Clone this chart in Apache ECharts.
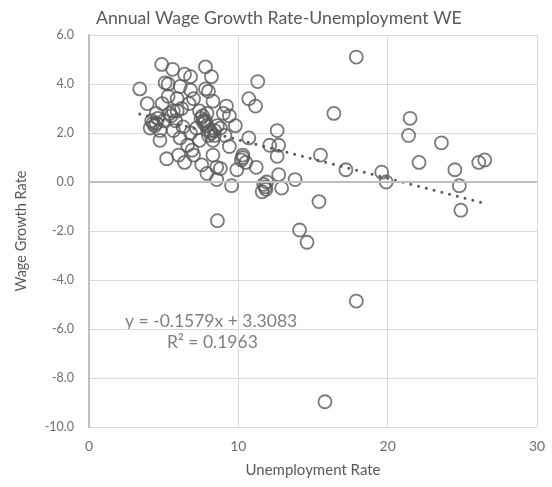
<!DOCTYPE html>
<html>
<head>
<meta charset="utf-8">
<script src="https://cdn.jsdelivr.net/npm/echarts@6/dist/echarts.min.js"></script>
<style>
  html, body { margin: 0; padding: 0; background: #fff; }
  #chart { width: 552px; height: 487px; }
</style>
</head>
<body>
<div id="chart"></div>
<script>
var unemployment = [
  4.87, 5.6, 6.4, 6.8, 7.8, 8.2, 5.1, 5.3, 3.4, 6.1,
  6.8, 7.8, 8.0, 3.9, 4.9, 5.3, 5.9, 7.0, 8.3, 9.2,
  5.65, 4.5, 7.4, 7.9, 9.0, 9.4, 4.2, 4.5, 5.0, 4.1,
  4.75, 5.65, 6.3, 6.8, 7.65, 8.1, 8.4, 8.8, 9.8, 4.75,
  6.1, 7.4, 8.3, 9.4, 10.7, 5.2, 6.0, 6.4, 7.0, 7.55,
  7.9, 8.3, 8.55, 8.8, 8.55, 9.9, 10.2, 10.3, 9.55, 11.2,
  11.3, 10.7, 11.15, 12.6, 12.1, 12.7, 12.6, 12.7, 11.9, 11.8,
  11.6, 12.9, 13.8, 15.5, 15.4, 8.6, 14.1, 14.6, 17.9, 15.8,
  17.9, 16.4, 21.5, 21.4, 23.6, 22.1, 26.1, 26.5, 24.5, 24.8,
  24.9, 19.6, 19.9, 17.2, 4.3, 4.6, 4.4, 7.5, 7.7, 7.6,
  7.8, 7.9, 8.0, 8.2, 8.4, 5.8, 6.6, 6.9, 7.2, 6.2,
  5.4, 6.7, 8.6, 9.1, 10.5, 10.3, 11.7, 11.85, 5.5, 5.9
];
var wageGrowth = [
  4.8, 4.6, 4.4, 4.3, 4.7, 4.3, 4.05, 4.0, 3.8, 3.9,
  3.75, 3.8, 3.7, 3.2, 3.2, 3.5, 3.4, 3.4, 3.3, 3.1,
  2.9, 2.8, 2.9, 2.8, 2.8, 2.7, 2.5, 2.4, 2.5, 2.2,
  2.1, 2.1, 2.25, 2.0, 2.5, 2.1, 1.9, 2.2, 2.3, 1.7,
  1.8, 1.7, 1.7, 1.45, 1.8, 0.95, 1.1, 0.8, 1.1, 0.7,
  0.35, 1.1, 0.6, 0.55, 0.1, 0.5, 0.9, 1.1, -0.15, 0.6,
  4.1, 3.4, 3.1, 2.1, 1.5, 1.5, 1.05, 0.3, 0.0, -0.2,
  -0.4, -0.25, 0.1, 1.1, -0.8, -1.58, -1.96, -2.46, -4.86, -8.97,
  5.1, 2.8, 2.6, 1.9, 1.6, 0.8, 0.8, 0.9, 0.5, -0.15,
  -1.15, 0.4, 0.0, 0.5, 2.4, 2.6, 2.3, 2.6, 2.4, 2.7,
  2.5, 2.3, 1.9, 2.0, 2.1, 2.5, 1.5, 1.3, 2.2, 3.0,
  2.8, 3.2, 2.3, 1.9, 0.8, 1.0, -0.1, -0.3, 2.7, 2.9
];
var trendSlope = -0.1579;
var trendIntercept = 3.3083;
var trendText = ["y = -0.1579x + 3.3083", "R\u00b2 = 0.1963"];

var points = unemployment.map(function (x, i) { return [x, wageGrowth[i]]; });
var xMin = Math.min.apply(null, unemployment);
var xMax = Math.max.apply(null, unemployment);
var trend = [xMin, xMax].map(function (x) { return [x, trendIntercept + trendSlope * x]; });

var font = "Lato, 'Open Sans', sans-serif";
var chart = echarts.init(document.getElementById("chart"), null, { renderer: "canvas" });
var option = {
  animation: false,
  title: {
    text: "Annual Wage Growth Rate-Unemployment WE",
    left: 91,
    top: 4,
    textStyle: { fontFamily: font, fontSize: 17.7, fontWeight: "normal", color: "#595959" }
  },
  grid: { left: 89, right: 15, top: 35, bottom: 60, containLabel: false },
  xAxis: {
    type: "value",
    min: 0, max: 30, interval: 10,
    name: "Unemployment Rate",
    nameLocation: "middle",
    nameGap: 36,
    nameTextStyle: { fontFamily: font, fontSize: 15, color: "#595959" },
    axisLine: { show: false },
    axisTick: { show: false },
    axisLabel: { fontFamily: font, fontSize: 14, color: "#6f6f6f", margin: 12 },
    splitLine: { show: true, lineStyle: { color: "#d9d9d9", width: 1 } }
  },
  yAxis: {
    type: "value",
    min: -10, max: 6, interval: 2,
    name: "Wage Growth Rate",
    nameLocation: "middle",
    nameGap: 60,
    nameTextStyle: { fontFamily: font, fontSize: 14.5, color: "#595959" },
    axisLine: { show: true, lineStyle: { color: "#bfbfbf", width: 2 } },
    axisTick: { show: false },
    axisLabel: {
      fontFamily: font, fontSize: 12.5, color: "#6f6f6f", margin: 15,
      formatter: function (v) { return v.toFixed(1); }
    },
    splitLine: { show: true, lineStyle: { color: "#d9d9d9", width: 1 } }
  },
  series: [
    {
      type: "scatter",
      data: points,
      symbol: "circle",
      symbolSize: 13,
      itemStyle: { color: "rgba(0,0,0,0)", borderColor: "#595959", borderWidth: 1.8 },
      markLine: {
        silent: true,
        symbol: "none",
        label: { show: false },
        lineStyle: { color: "#bfbfbf", width: 2, type: "solid" },
        data: [{ yAxis: 0 }]
      },
      z: 3
    },
    {
      type: "line",
      data: trend,
      showSymbol: false,
      symbol: "none",
      lineStyle: { color: "#595959", width: 3, type: [0, 8], cap: "round" },
      z: 4
    }
  ],
  graphic: [
    {
      type: "text", left: 125, top: 312,
      style: { text: trendText[0], fontFamily: font, fontSize: 17.5, fill: "#7f7f7f" }
    },
    {
      type: "text", left: 167, top: 333,
      style: { text: trendText[1], fontFamily: font, fontSize: 17.5, fill: "#7f7f7f" }
    }
  ]
};
chart.setOption(option);
</script>
</body>
</html>
